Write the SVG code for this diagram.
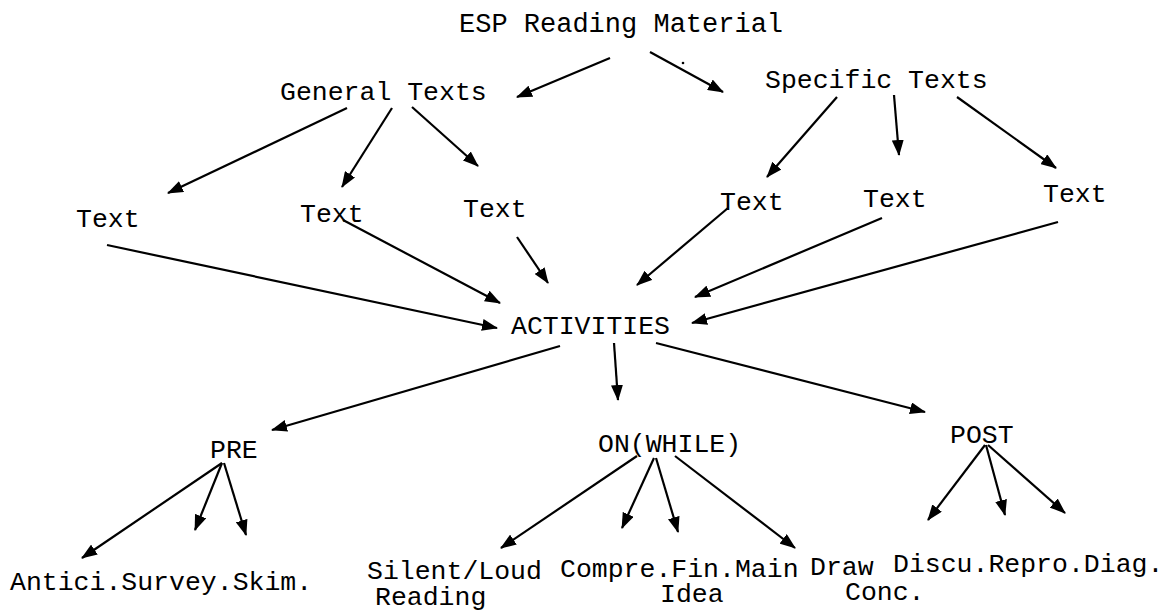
<svg xmlns="http://www.w3.org/2000/svg" width="1165" height="613" viewBox="0 0 1165 613">
  <style>
    text { font-family: "Liberation Mono", "Courier New", monospace; font-size: 26.5px; fill: #000; }
    .title { font-size: 27px; }
    .c line { stroke: #000; stroke-width: 2.2; marker-end: url(#ah); }
  </style>
  <defs>
    <marker id="ah" markerUnits="userSpaceOnUse" markerWidth="16" markerHeight="12" refX="15" refY="6" orient="auto">
      <path d="M0,0 L16,6 L0,12 z" fill="#000"/>
    </marker>
  </defs>
  <rect width="1165" height="613" fill="#fff"/>

  <g id="esp"><text class="title" x="459" y="32">ESP Reading Material</text></g>
  <circle cx="683" cy="63" r="1.3" fill="#000"/>
  <g id="general"><text x="280" y="100">General Texts</text></g>
  <g id="specific"><text x="765" y="88">Specific Texts</text></g>

  <g id="text1"><text x="76" y="227">Text</text></g>
  <g id="text2"><text x="300" y="222">Text</text></g>
  <g id="text3"><text x="463" y="217">Text</text></g>
  <g id="text4"><text x="720" y="210">Text</text></g>
  <g id="text5"><text x="863" y="207">Text</text></g>
  <g id="text6"><text x="1043" y="202">Text</text></g>

  <g id="activities"><text x="511" y="334">ACTIVITIES</text></g>
  <g id="pre"><text x="210" y="458">PRE</text></g>
  <g id="onwhile"><text x="598" y="452">ON(WHILE)</text></g>
  <g id="post"><text x="950" y="443">POST</text></g>

  <g id="pre-items"><text x="10" y="590">Antici.Survey.Skim.</text></g>
  <g id="silent"><text x="367" y="579">Silent/Loud</text><text x="375" y="605">Reading</text></g>
  <g id="compre"><text x="560" y="577">Compre.Fin.Main</text><text x="660" y="602">Idea</text></g>
  <g id="draw"><text x="810" y="575">Draw</text><text x="845" y="600">Conc.</text></g>
  <g id="post-items"><text x="893" y="572">Discu.Repro.Diag.</text></g>

  <g id="connectors" class="c">
    <line x1="610" y1="58" x2="517" y2="97"/>
    <line x1="650" y1="52" x2="723" y2="92"/>
    <line x1="347" y1="108" x2="168" y2="193"/>
    <line x1="392" y1="108" x2="342" y2="187"/>
    <line x1="412" y1="107" x2="478" y2="166"/>
    <line x1="837" y1="97" x2="767" y2="177"/>
    <line x1="894" y1="95" x2="899" y2="155"/>
    <line x1="957" y1="97" x2="1056" y2="168"/>
    <line x1="107" y1="245" x2="497" y2="328"/>
    <line x1="343" y1="220" x2="500" y2="303"/>
    <line x1="517" y1="237" x2="548" y2="283"/>
    <line x1="728" y1="208" x2="637" y2="285"/>
    <line x1="882" y1="218" x2="695" y2="297"/>
    <line x1="1058" y1="222" x2="692" y2="323"/>
    <line x1="560" y1="346" x2="272" y2="430"/>
    <line x1="614" y1="343" x2="618" y2="400"/>
    <line x1="656" y1="343" x2="925" y2="412"/>
    <line x1="222" y1="463" x2="82" y2="558"/>
    <line x1="222" y1="463" x2="195" y2="530"/>
    <line x1="224" y1="463" x2="246" y2="535"/>
    <line x1="637" y1="456" x2="501" y2="548"/>
    <line x1="654" y1="458" x2="622" y2="528"/>
    <line x1="656" y1="458" x2="678" y2="532"/>
    <line x1="675" y1="456" x2="795" y2="548"/>
    <line x1="985" y1="445" x2="928" y2="520"/>
    <line x1="986" y1="445" x2="1005" y2="515"/>
    <line x1="988" y1="445" x2="1065" y2="513"/>
  </g>
</svg>
